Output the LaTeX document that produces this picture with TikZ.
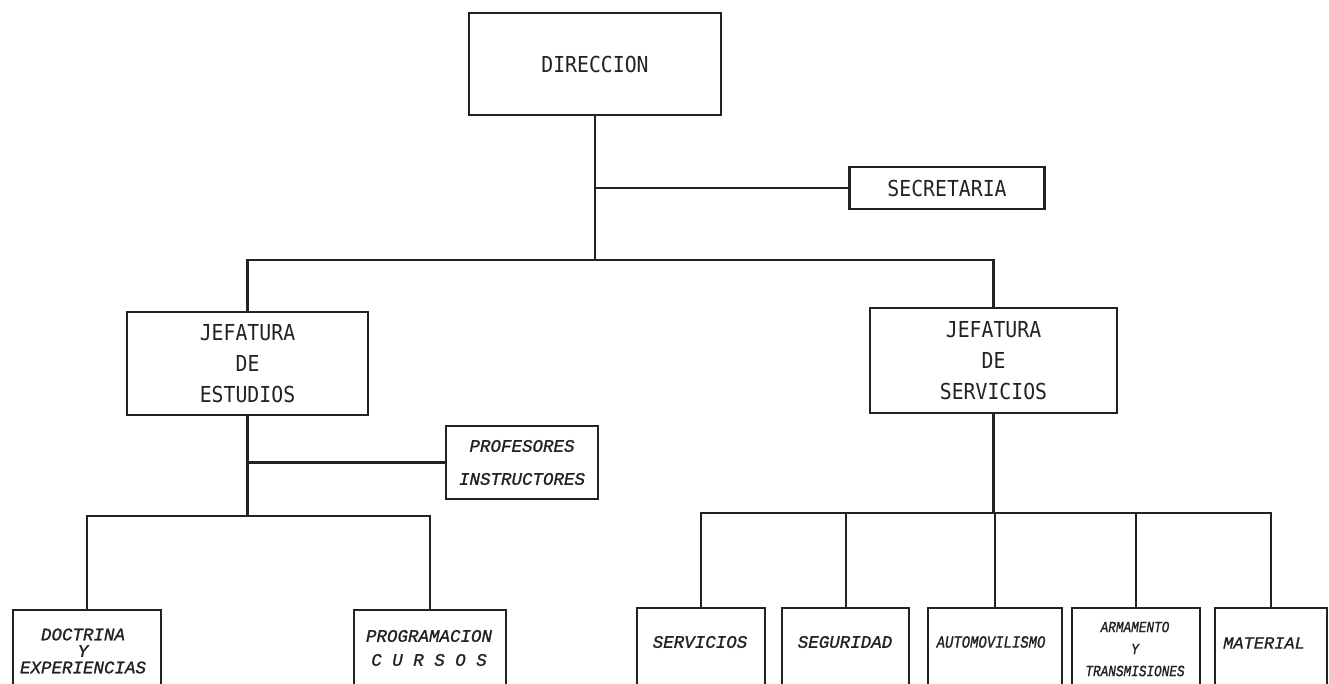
\documentclass[tikz,border=0pt]{standalone}
\usepackage{fontspec}
\newfontfamily\upfont{DejaVu Sans Mono}[FakeStretch=0.9]
\newfontfamily\itmono{Liberation Mono}[FakeBold=1.2]
\newfontfamily\itcond{Liberation Mono}[FakeStretch=0.82,FakeBold=1.2]
\definecolor{ink}{HTML}{222222}
\begin{document}
\begin{tikzpicture}[x=1pt,y=-1pt,
  box/.style={draw=ink,line width=2.2pt,rectangle,inner sep=0pt},
  ln/.style={draw=ink,line width=2.2pt},
  up/.style={text=ink,align=center,font=\upfont\fontsize{22}{31}\selectfont},
  it/.style={text=ink,align=center,font=\itmono\itshape\fontsize{17.5}{33}\selectfont},
  itb/.style={text=ink,align=center,inner sep=0pt},
  low/.style={box,minimum height=130pt,anchor=north west}]
\useasboundingbox (0,0) rectangle (1329,684);
\clip (0,0) rectangle (1329,684);
% upper boxes
\node[box,up,minimum width=252pt,minimum height=102pt] (dir) at (595,64) {DIRECCION};
\node[box,up,minimum width=195pt,minimum height=42pt] (sec) at (947,188) {SECRETARIA};
\node[box,up,minimum width=241pt,minimum height=103pt] (jes) at (247.5,363.5) {JEFATURA\\DE\\ESTUDIOS};
\node[box,up,minimum width=247pt,minimum height=105pt] (jsv) at (993.5,360.5) {JEFATURA\\DE\\SERVICIOS};
\node[box,it,minimum width=152pt,minimum height=73pt] (prof) at (522,462.5) {PROFESORES\\INSTRUCTORES};
% lower boxes
\node[low,minimum width=148pt] (doc) at (12,609) {};
\node[low,minimum width=152pt] (prog) at (353,609) {};
\node[low,minimum width=128pt] (sv) at (636,607) {};
\node[low,minimum width=127pt] (sg) at (781,607) {};
\node[low,minimum width=134pt] (au) at (926.5,607) {};
\node[low,minimum width=128pt] (ar) at (1071,607) {};
\node[low,minimum width=112pt] (ma) at (1214,607) {};
% lower texts
\node[itb,font=\itmono\itshape\fontsize{17.5}{16.5}\selectfont] (doct) at (83,651) {DOCTRINA\\Y\\EXPERIENCIAS};
\node[itb,font=\itmono\itshape\fontsize{17.5}{24}\selectfont] (progt) at (429,648) {PROGRAMACION\\C U R S O S};
\node[itb,font=\itmono\itshape\fontsize{17.5}{20}\selectfont] (svt) at (700,642) {SERVICIOS};
\node[itb,font=\itmono\itshape\fontsize{17.5}{20}\selectfont] (sgt) at (845,642) {SEGURIDAD};
\node[itb,font=\itcond\itshape\fontsize{17}{20}\selectfont] (aut) at (991,642) {AUTOMOVILISMO};
\node[itb,font=\itcond\itshape\fontsize{15.5}{22}\selectfont] (art) at (1135,649) {ARMAMENTO\\Y\\TRANSMISIONES};
\node[itb,font=\itmono\itshape\fontsize{17}{20}\selectfont] (mat) at (1264,643) {MATERIAL};
% bar levels
\coordinate (hb) at (0,260);
\coordinate (lb) at (0,516);
\coordinate (rb) at (0,513);
% connectors
\draw[ln] (dir.south) -- (dir.south |- hb);
\draw[ln] (dir.south |- sec.west) -- (sec.west);
\draw[ln] (jes.north) -- (jes.north |- hb) -- (jsv.north |- hb) -- (jsv.north);
\draw[ln] (jes.south) -- (jes.south |- lb);
\draw[ln] (jes.south |- prof.west) -- (prof.west);
\draw[ln] (doc.north) -- (doc.north |- lb) -- (prog.north |- lb) -- (prog.north);
\draw[ln] (jsv.south) -- (jsv.south |- rb);
\draw[ln] (sv.north) -- (sv.north |- rb) -- (ma.north |- rb) -- (ma.north);
\draw[ln] (sg.north) -- (sg.north |- rb);
\draw[ln] (au.north) -- (au.north |- rb);
\draw[ln] (ar.north) -- (ar.north |- rb);
\end{tikzpicture}
\end{document}
